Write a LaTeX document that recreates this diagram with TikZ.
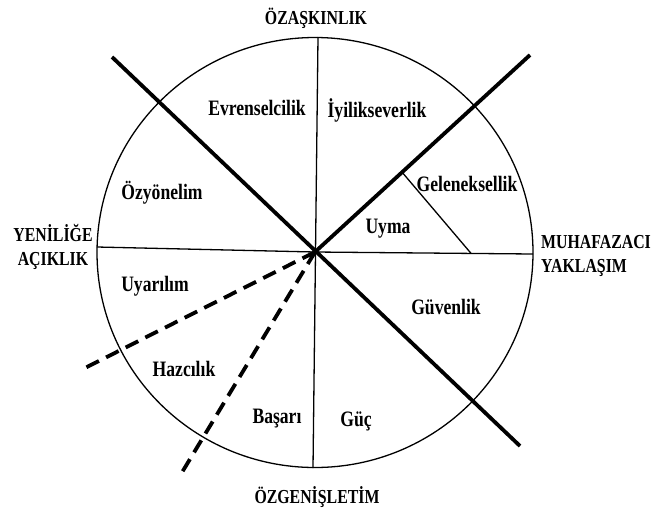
\documentclass[tikz,border=0pt]{standalone}
\usepackage{fontspec}
\setmainfont{Liberation Serif}[FakeStretch=0.8]
\usetikzlibrary{calc}
\begin{document}
\begin{tikzpicture}[x=1pt,y=-1pt,
  thinline/.style={line width=1.3pt},
  thickline/.style={line width=3.8pt},
  dashline/.style={line width=3.8pt, dash pattern=on 14pt off 8pt},
  lab/.style={font=\fontsize{22}{24}\selectfont\bfseries, inner sep=0pt},
  head/.style={font=\fontsize{19.8}{24}\selectfont\bfseries, inner sep=0pt}]
\useasboundingbox (0,0) rectangle (652,512);
% key points
\coordinate (O) at (315,252);
\coordinate (top) at (318,37);
\coordinate (bot) at (313,468);
\coordinate (lft) at (97,247);
\coordinate (rgt) at (533,254);
\coordinate (NW) at (112,57);
\coordinate (SE) at (520,446);
\coordinate (NE) at (530,55);
\coordinate (D1) at (85,368);
\coordinate (D2) at (181,474);
\coordinate (G1) at ($(O)!0.405!(NE)$);
\coordinate (G2) at ($(O)!0.716!(rgt)$);
% circle
\draw[thinline] (315,252.5) ellipse [x radius=218, y radius=215];
% thin axes
\draw[thinline] (top) -- (bot);
\draw[thinline] (lft) -- (O) -- (rgt);
\draw[thinline] (G1) -- (G2);
% thick lines
\draw[thickline] (NW) -- (SE);
\draw[thickline] (O) -- (NE);
\draw[dashline] (O) -- (D1);
\draw[dashline] (O) -- (D2);
% headings
\node[head] (h1) at (316,18) {ÖZAŞKINLIK};
\node[head] (h2) at (317,497) {ÖZGENİŞLETİM};
\node[head, align=center] (h3) at (53,247) {YENİLİĞE\\AÇIKLIK};
\node[head, align=left, anchor=west] (h4) at (541,256) {MUHAFAZACI\\YAKLAŞIM};
% labels
\node[lab] (l1) at (257,108) {Evrenselcilik};
\node[lab] (l2) at (377,110) {İyilikseverlik};
\node[lab] (l3) at (162,193) {Özyönelim};
\node[lab] (l4) at (467,184) {Geleneksellik};
\node[lab] (l5) at (388,229) {Uyma};
\node[lab] (l6) at (155,286) {Uyarılım};
\node[lab] (l7) at (446,307) {Güvenlik};
\node[lab] (l8) at (184,369) {Hazcılık};
\node[lab] (l9) at (277,419) {Başarı};
\node[lab] (l10) at (356,421) {Güç};
\end{tikzpicture}
\end{document}
